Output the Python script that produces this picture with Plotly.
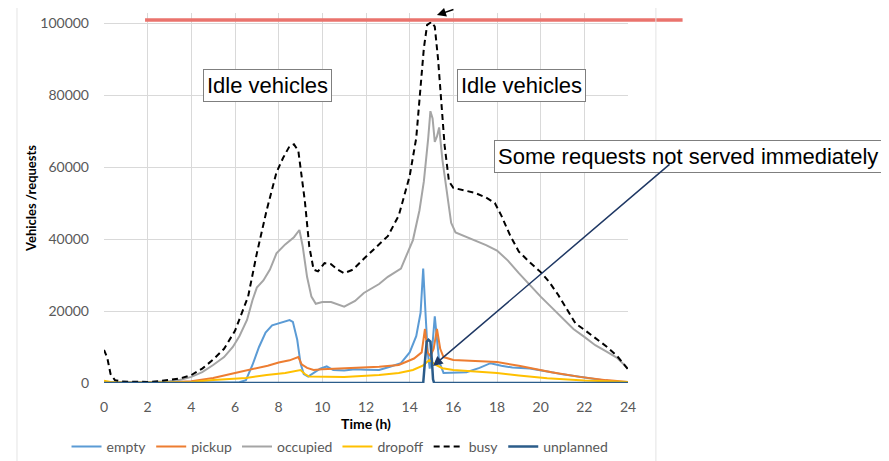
import plotly.graph_objects as go

# ---------------- data ----------------
busy_t = [0, 0.15, 0.3, 0.5, 0.8, 1.5, 2, 2.5, 3, 3.5, 4, 4.5, 5, 5.5, 6, 6.3, 6.6, 7.0, 7.45, 7.9,
          8.2, 8.5, 8.7, 8.9, 9.05, 9.2, 9.4, 9.6, 9.8, 10.1, 10.4, 10.7, 11.0, 11.4, 11.9, 12.5,
          13.0, 13.5, 14.0, 14.3, 14.5, 14.65, 14.8, 15.0, 15.15, 15.3, 15.45, 15.6, 15.8, 16.0,
          16.5, 17.0, 17.5, 17.9, 18.2, 18.6, 19.0, 19.5, 20.0, 20.4, 20.8, 21.2, 21.6, 22.0,
          22.5, 23.0, 23.5, 24.0]
busy_v = [9200, 7000, 2500, 800, 400, 300, 300, 500, 800, 1300, 2200, 4000, 6500, 9500, 14500,
          19000, 24000, 36000, 48000, 58500, 62500, 65800, 66300, 64500, 58000, 50500, 38000,
          31500, 31000, 33300, 33000, 31500, 30500, 31500, 34500, 37800, 40800, 46500, 57500,
          68000, 81000, 93000, 99500, 100300, 99000, 90000, 78000, 66000, 56000, 54200, 53500,
          52800, 51500, 50000, 46500, 41000, 36500, 33500, 30800, 28000, 24500, 20500, 16500,
          14800, 12500, 10200, 7500, 3800]

occ_t = [0, 1, 2, 3, 3.5, 4, 4.5, 5, 5.5, 5.9, 6.2, 6.55, 6.8, 7.0, 7.3, 7.6, 7.9, 8.3, 8.7, 8.95,
         9.1, 9.3, 9.5, 9.7, 10.0, 10.4, 10.7, 11.0, 11.5, 11.9, 12.6, 13.0, 13.6, 14.15, 14.45,
         14.65, 14.85, 14.95, 15.05, 15.15, 15.25, 15.35, 15.5, 15.7, 15.9, 16.1, 16.5, 17.0,
         17.5, 18.0, 18.5, 19.0, 19.5, 20.0, 20.5, 21.0, 21.5, 22.0, 22.5, 23.0, 23.5, 24.0]
occ_v = [200, 100, 200, 500, 900, 1700, 3000, 5000, 7200, 10000, 13000, 17500, 23000, 26500,
         28500, 31500, 36000, 38500, 40500, 42500, 38000, 29500, 24000, 22000, 22500, 22500,
         21800, 21200, 22800, 25000, 27500, 29500, 31800, 39700, 48000, 56000, 68000, 75500,
         73500, 67000, 68500, 71000, 62000, 52500, 44500, 41800, 40800, 39500, 38300, 36800,
         34000, 30500, 27200, 24000, 21000, 18000, 15000, 12800, 10500, 8800, 7000, 4000]

empty_t = [0, 6.2, 6.5, 6.8, 7.1, 7.4, 7.7, 8.1, 8.5, 8.65, 8.85, 9.0, 9.15, 9.35, 9.6, 9.9, 10.2,
           10.5, 11, 11.5, 12, 12.6, 13.1, 13.6, 14.0, 14.3, 14.5, 14.62, 14.72, 14.82, 14.92,
           15.05, 15.15, 15.25, 15.35, 15.55, 16.0, 16.6, 17.2, 17.7, 18.2, 18.7, 19.5, 20.0,
           20.5, 21, 21.8, 22.5, 23.4, 24]
empty_v = [100, 200, 800, 5000, 10000, 14000, 16000, 16700, 17500, 17000, 12000, 5500, 2500,
           1800, 2800, 4000, 4600, 3600, 3500, 3800, 3700, 3600, 4500, 5500, 8500, 13000, 19500,
           31800, 20000, 9000, 4000, 11000, 18500, 12000, 6000, 2800, 2800, 3000, 4200, 5500,
           4800, 4300, 4000, 3600, 3000, 2400, 1700, 1000, 300, 100]

pick_t = [0, 2, 3, 4, 5, 6, 6.5, 7.1, 7.5, 8.0, 8.5, 8.9, 9.05, 9.3, 9.6, 10, 11, 12, 12.6, 13.5,
          14.2, 14.55, 14.7, 14.82, 14.95, 15.1, 15.25, 15.4, 15.55, 16.0, 17.0, 18.0, 19.0,
          19.6, 20.5, 21.8, 23, 24]
pick_v = [100, 100, 200, 500, 1400, 2800, 3500, 4200, 4800, 5700, 6300, 7200, 5200, 4200, 3600,
          3800, 4000, 4300, 4500, 5000, 6800, 8500, 15000, 8500, 7500, 9500, 15000, 9500, 7200,
          6400, 6000, 5800, 4800, 4100, 3000, 1700, 800, 300]

drop_t = [0, 0.3, 1, 3, 4, 5, 6.5, 7.45, 8.3, 9.0, 9.2, 9.4, 10, 11, 12, 12.6, 13.5, 14.15, 14.6,
          14.9, 15.2, 15.5, 16, 17, 18, 19, 20.3, 22, 24]
drop_v = [600, 300, 100, 100, 300, 800, 1400, 2200, 2800, 3600, 2500, 1800, 1700, 1700, 2000,
          2200, 2800, 3600, 4800, 6400, 5000, 4100, 3600, 3200, 2800, 2100, 1300, 700, 300]

unpl_t = [0, 14.62, 14.7, 14.78, 14.86, 14.95, 15.02, 15.07, 15.12, 24]
unpl_v = [0, 0, 6000, 11500, 12000, 11500, 6000, 1000, 0, 0]

# overlaid strip from the source picture (red line at the top)
red_t = [1.88, 26.5]
red_v = [100800, 100800]

x_ticks = [0, 2, 4, 6, 8, 10, 12, 14, 16, 18, 20, 22, 24]
y_ticks = [0, 20000, 40000, 60000, 80000, 100000]

# ---------------- figure ----------------
FONT = "Lato"
TICK_COL = "#595959"
GRID = "#d9d9d9"

fig = go.Figure()

series = [
    ("empty", empty_t, empty_v, "#5B9BD5", 2, "solid"),
    ("pickup", pick_t, pick_v, "#ED7D31", 2, "solid"),
    ("occupied", occ_t, occ_v, "#A5A5A5", 2, "solid"),
    ("dropoff", drop_t, drop_v, "#FFC000", 2, "solid"),
    ("busy", busy_t, busy_v, "#000000", 2, "6px,4px"),
    ("unplanned", unpl_t, unpl_v, "#2B5C8A", 2.5, "solid"),
]
for name, t, v, col, w, dash in series:
    fig.add_trace(go.Scatter(x=t, y=v, name=name, mode="lines",
                             line=dict(color=col, width=w, dash=dash)))

fig.add_trace(go.Scatter(x=red_t, y=red_v, mode="lines", showlegend=False,
                         line=dict(color="#EA736D", width=3.5),
                         xaxis="x2", yaxis="y2", hoverinfo="skip"))

PX_PER_H = 524 / 24.0
Y_MAX = 370 / 3.6 * 1000

# the page body adds an 8px offset, so the figure is 8px smaller each way
fig.update_layout(
    width=881, height=453,
    margin=dict(l=96, r=189, t=5, b=78, pad=0, autoexpand=False),
    paper_bgcolor="white", plot_bgcolor="rgba(0,0,0,0)",
    font=dict(family=FONT, size=14, color=TICK_COL),
    xaxis=dict(domain=[0, 524 / 596], range=[0, 24], tickvals=x_ticks,
               showgrid=True, gridcolor=GRID, gridwidth=1, zeroline=False,
               showline=False, ticks="", ticklabelstandoff=14, automargin=False,
               tickfont=dict(family=FONT, size=14, color=TICK_COL),
               title=dict(text="<b>Time (h)</b>", standoff=3,
                          font=dict(family=FONT, size=14, color="#000000"))),
    yaxis=dict(range=[0, Y_MAX], tickvals=y_ticks, tickformat="d",
               showgrid=True, gridcolor=GRID, gridwidth=1, zeroline=False,
               showline=False, ticks="", ticklabelstandoff=14, automargin=False,
               tickfont=dict(family=FONT, size=14, color=TICK_COL),
               title=dict(text="<b>Vehicles /requests</b>", standoff=0,
                          font=dict(family=FONT, size=13, color="#000000"))),
    xaxis2=dict(domain=[0, 1], range=[0, 596 / PX_PER_H], visible=False,
                anchor="y2", showgrid=False, automargin=False),
    yaxis2=dict(domain=[0, 1], range=[0, Y_MAX], visible=False,
                anchor="x2", showgrid=False, automargin=False),
    legend=dict(orientation="h", x=0.396, xanchor="center", y=-0.173,
                yanchor="middle", font=dict(family=FONT, size=14, color=TICK_COL),
                bgcolor="rgba(0,0,0,0)", itemwidth=30, tracegroupgap=0),
    showlegend=True,
)

# frame lines of the source picture
fig.add_shape(type="line", xref="paper", yref="paper", x0=-0.146, x1=-0.146,
              y0=-0.22, y1=1.04, line=dict(color="#e4e4e4", width=1))
fig.add_shape(type="line", xref="paper", yref="paper", x0=0.926, x1=0.926,
              y0=-0.22, y1=1.04, line=dict(color="#e4e4e4", width=1))

box = dict(showarrow=False, xref="paper", yref="paper", xanchor="center", yanchor="middle",
           font=dict(family="Liberation Sans", size=22, color="#000000"),
           bgcolor="white", bordercolor="#7f7f7f", borderwidth=1, borderpad=3)
fig.add_annotation(text="Idle vehicles", x=0.2743, y=0.805, **box)
fig.add_annotation(text="Idle vehicles", x=0.7013, y=0.805, **box)
fig.add_annotation(text="Some requests not served immediately", x=0.98, y=0.611, **box)

# arrow to the unplanned spike
fig.add_annotation(text="", x=15.07, y=4700, xref="x", yref="y", ax=238, ay=-203,
                   showarrow=True, arrowhead=2, arrowsize=1.3, arrowwidth=1.5,
                   arrowcolor="#1F3864", standoff=0)
# small arrow at the top of the busy peak
fig.add_annotation(text="", x=15.25, y=102200, xref="x", yref="y", ax=18, ay=-6,
                   showarrow=True, arrowhead=2, arrowsize=1.2, arrowwidth=1.5,
                   arrowcolor="#000000", standoff=0)

fig.write_html("out.html")
